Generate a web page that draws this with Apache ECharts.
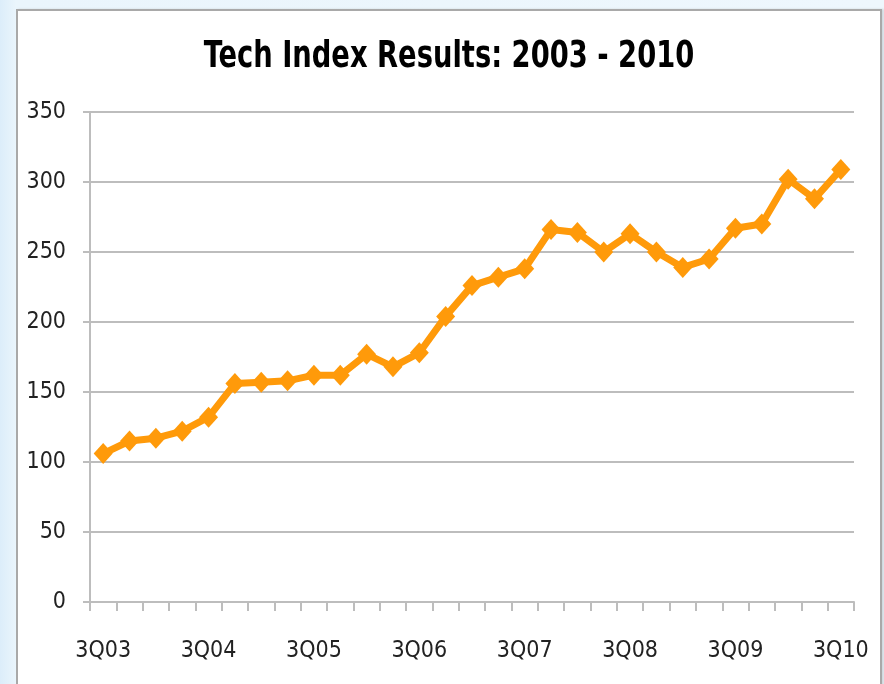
<!DOCTYPE html>
<html>
<head>
<meta charset="utf-8">
<script src="https://cdn.jsdelivr.net/npm/echarts@6/dist/echarts.min.js"></script>
<style>
  html, body { margin: 0; padding: 0; width: 884px; height: 684px; overflow: hidden;
    background: linear-gradient(to right, #dcedfa 0px, #eaf5fc 16px, #eef7fd 100%); }
  #panel { position: absolute; left: 16px; top: 9px; width: 862px; height: 700px;
    background: #ffffff; border: 2px solid #a9a9a9; box-shadow: 2px 0 2px #d0d8de; }
  #chart { position: absolute; left: 0; top: 0; width: 884px; height: 684px; }
</style>
</head>
<body>
<div id="panel"></div>
<div id="chart"></div>
<script>
const titleText = 'Tech Index Results: 2003 - 2010';
const categories = ['3Q03','4Q03','1Q04','2Q04','3Q04','4Q04','1Q05','2Q05','3Q05','4Q05','1Q06','2Q06','3Q06','4Q06','1Q07','2Q07','3Q07','4Q07','1Q08','2Q08','3Q08','4Q08','1Q09','2Q09','3Q09','4Q09','1Q10','2Q10','3Q10'];
const techIndex = [106,115,117,122,132,156,157,158,162,162,177,168,178,204,226,232,238,266,264,250,263,250,239,245,267,270,302,288,309];
const yMin = 0, yMax = 350, yStep = 50;

const FONT = '"DejaVu Sans Condensed", "Liberation Sans Narrow", "Liberation Sans", sans-serif';
const chart = echarts.init(document.getElementById('chart'), null, { renderer: 'canvas' });
chart.setOption({
  backgroundColor: 'transparent',
  animation: false,
  graphic: [{
    type: 'text',
    x: 449, y: 57,
    scaleX: 0.8,
    style: {
      text: titleText,
      fontFamily: FONT, fontWeight: 'bold', fontSize: 38,
      fill: '#000000', textAlign: 'center', textVerticalAlign: 'middle'
    }
  }],
  grid: { left: 90, right: 30, top: 112, bottom: 82, containLabel: false },
  xAxis: {
    type: 'category',
    data: categories,
    boundaryGap: true,
    axisLine: { show: true, lineStyle: { color: '#bdbdbd', width: 2 } },
    axisTick: { show: true, interval: 0, length: 9, lineStyle: { color: '#bdbdbd', width: 2 } },
    axisLabel: { interval: 3, margin: 38, fontFamily: FONT, fontSize: 23, color: '#222222' },
    splitLine: { show: false }
  },
  yAxis: {
    type: 'value',
    min: yMin, max: yMax, interval: yStep,
    axisLine: { show: true, lineStyle: { color: '#bdbdbd', width: 2 } },
    axisTick: { show: true, length: 7, lineStyle: { color: '#bdbdbd', width: 2 } },
    axisLabel: { margin: 24, fontFamily: FONT, fontSize: 23, color: '#222222' },
    splitLine: { show: true, lineStyle: { color: '#bdbdbd', width: 2 } }
  },
  series: [{
    type: 'line',
    data: techIndex,
    symbol: 'diamond',
    symbolSize: [19, 21],
    showSymbol: true,
    showAllSymbol: true,
    lineStyle: { color: '#ff9a0a', width: 7 },
    itemStyle: { color: '#ff9a0a' }
  }]
});
</script>
</body>
</html>
